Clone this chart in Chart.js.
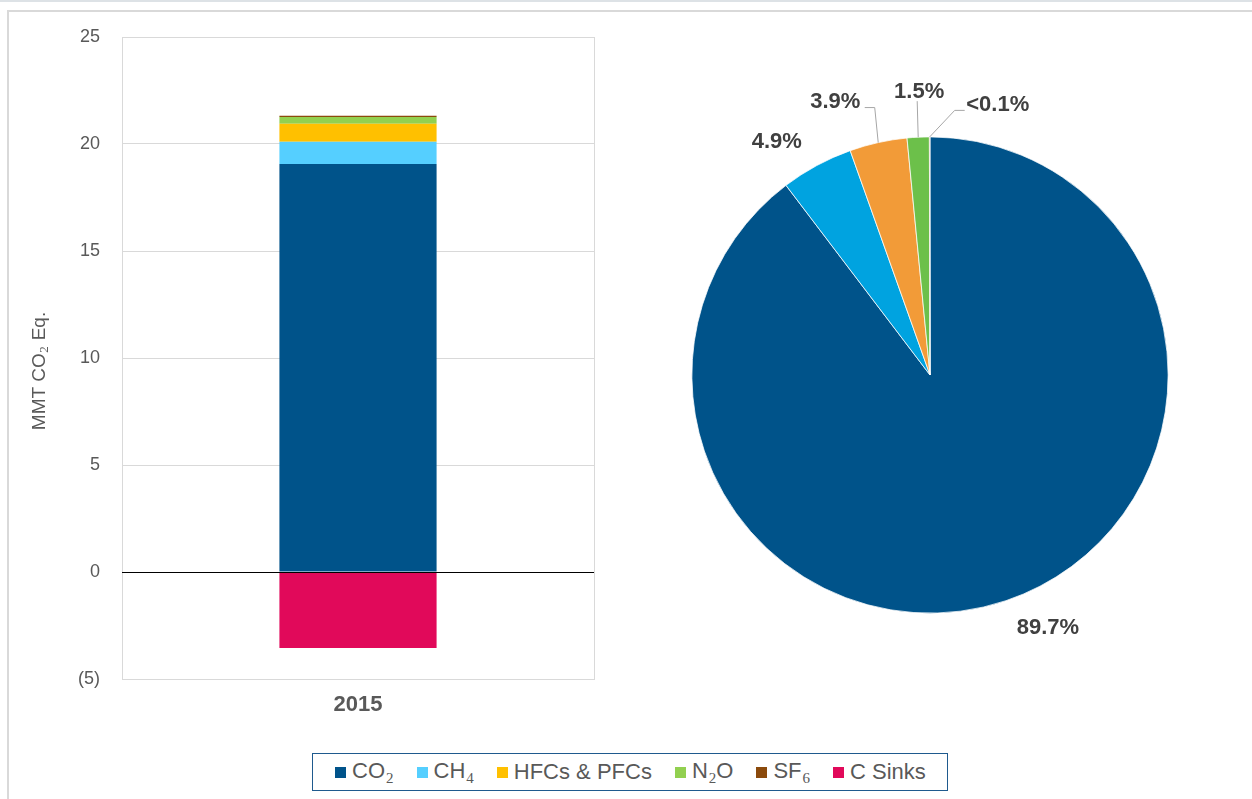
<!DOCTYPE html>
<html><head><meta charset="utf-8">
<script src="https://cdn.jsdelivr.net/npm/chart.js@4/dist/chart.umd.min.js"></script>
<style>
html,body{margin:0;padding:0;background:#fff;}
body{width:1252px;height:799px;overflow:hidden;position:relative;font-family:'Liberation Sans',Arial,sans-serif;}
#topband{position:absolute;left:0;top:0;width:1252px;height:2px;background:#DDE2E6;}
#frameTop{position:absolute;left:7px;top:10px;width:1245px;height:2px;background:#D9D9D9;}
#frameLeft{position:absolute;left:7px;top:10px;width:2px;height:789px;background:#D9D9D9;}
#barWrap{position:absolute;left:0;top:0;width:620px;height:740px;}
#pieWrap{position:absolute;left:630px;top:75px;width:600px;height:600px;}
#legend{position:absolute;left:312px;top:753px;width:636px;height:38px;box-sizing:border-box;border:1px solid #1F5A8E;display:flex;align-items:center;padding-left:22px;}
.item{display:flex;align-items:center;margin-right:23px;font-size:22px;color:#595959;white-space:nowrap;line-height:36px;}
.sw{width:11px;height:11px;margin-right:6px;flex:none;}
.sub{font-family:'Liberation Serif','DejaVu Serif',serif;font-size:15px;position:relative;top:5px;margin-left:1px;}
</style>
</head><body>
<div id="topband"></div><div id="frameTop"></div><div id="frameLeft"></div>
<div id="barWrap"><canvas id="bar" width="620" height="740"></canvas></div>
<div id="pieWrap"><canvas id="pie" width="600" height="600"></canvas></div>
<div id="legend"></div>
<script>
// ---- data ----
const categories = ['2015'];
const gasNames = ['CO₂', 'CH₄', 'HFCs & PFCs', 'N₂O', 'SF₆', 'C Sinks'];
const co2 = [19.07];
const ch4 = [1.04];
const hfcs = [0.84];
const n2o = [0.31];
const sf6 = [0.02];
const cSinks = [-3.55];
const pieShares = [89.7, 4.9, 3.9, 1.5, 0.04]; // CO2, CH4, HFCs&PFCs, N2O, SF6 (%)
const yTicks = [-5, 0, 5, 10, 15, 20, 25];
const yTitle = ['MMT CO', '2', ' Eq.'];

// ---- styles ----
const barColors = ['#00538A', '#55CFFF', '#FFC000', '#92D050', '#8B4A0C', '#E1095A'];
const pieColors = ['#00538A', '#00A3E0', '#F29B38', '#6CC04A', '#8B4A0C'];
const FONT = "'Liberation Sans', Arial, sans-serif";
const pieLabelStyle = [
  {dx: 42, dy: 27},
  {dx: -40, dy: -24},
  {dx: -43, dy: -41, leader: [[-3.5, -35], [-13.5, -35]]},
  {dx: 1, dy: -45, leader: [[-1, -36]]},
  {dx: 68, dy: -32, leader: [[25, -26.5], [35, -26.5]]}
];

function fmtShare(v) { return v < 0.1 ? '<0.1%' : v.toFixed(1) + '%'; }

// ---- legend ----
const legendEl = document.getElementById('legend');
gasNames.forEach((n, i) => {
  const it = document.createElement('div'); it.className = 'item';
  const sw = document.createElement('span'); sw.className = 'sw'; sw.style.background = barColors[i];
  const tx = document.createElement('span');
  tx.innerHTML = n.replace(/[₀-₉]/g, c => '<span class="sub">' + (c.charCodeAt(0) - 0x2080) + '</span>');
  it.appendChild(sw); it.appendChild(tx); legendEl.appendChild(it);
});

// ---- bar chart ----
const zeroLine = {
  id: 'zeroLine',
  afterDatasetsDraw(chart) {
    const {ctx, chartArea, scales} = chart;
    const y = Math.round(scales.y.getPixelForValue(0)) + 0.5;
    ctx.save(); ctx.strokeStyle = '#000'; ctx.lineWidth = 1;
    ctx.beginPath(); ctx.moveTo(chartArea.left, y); ctx.lineTo(chartArea.right, y); ctx.stroke();
    ctx.restore();
  }
};
const axisTitle = {
  id: 'axisTitle',
  afterDraw(chart) {
    const ctx = chart.ctx;
    const cx = 40, cy = 371;
    const big = '19px ' + FONT, small = "13px 'Liberation Serif', serif";
    ctx.save();
    ctx.font = big; const w0 = ctx.measureText(yTitle[0]).width, w2 = ctx.measureText(yTitle[2]).width;
    ctx.font = small; const w1 = ctx.measureText(yTitle[1]).width + 1;
    const total = w0 + w1 + w2;
    ctx.translate(cx, cy); ctx.rotate(-Math.PI / 2);
    ctx.fillStyle = '#595959'; ctx.textBaseline = 'middle'; ctx.textAlign = 'left';
    let x = -total / 2;
    ctx.font = big; ctx.fillText(yTitle[0], x, 0); x += w0;
    ctx.font = small; ctx.fillText(yTitle[1], x + 0.5, 5); x += w1;
    ctx.font = big; ctx.fillText(yTitle[2], x, 0);
    ctx.restore();
  }
};
const barSeries = [co2, ch4, hfcs, n2o, sf6, cSinks];
new Chart(document.getElementById('bar'), {
  type: 'bar',
  data: {
    labels: categories,
    datasets: barSeries.map((d, i) => ({
      label: gasNames[i], data: d, backgroundColor: barColors[i], borderWidth: 0,
      minBarLength: i === 4 ? 1.3 : 0,
      barPercentage: 0.333, categoryPercentage: 1
    }))
  },
  options: {
    responsive: false, animation: false, events: [],
    layout: {padding: {left: 0, top: 37, right: 26, bottom: 0}},
    plugins: {legend: {display: false}, tooltip: {enabled: false}},
    scales: {
      x: {
        stacked: true, offset: true,
        grid: {display: true, color: '#D9D9D9', drawTicks: false, offset: true},
        border: {display: true, color: '#D9D9D9'},
        ticks: {font: {family: FONT, size: 22, weight: 'bold'}, color: '#595959', padding: 13},
        afterFit(s) { s.height = 61; }
      },
      y: {
        stacked: true, min: -5, max: 25,
        afterBuildTicks(s) { s.ticks = yTicks.map(v => ({value: v})); },
        grid: {color: '#D9D9D9', drawTicks: false},
        border: {display: true, color: '#D9D9D9'},
        ticks: {font: {family: FONT, size: 18}, color: '#595959', padding: 22,
          callback: v => v < 0 ? '(' + (-v) + ')' : String(v)},
        afterFit(s) { s.width = 122; }
      }
    }
  },
  plugins: [zeroLine, axisTitle]
});

// ---- pie chart ----
const pieLabels = {
  id: 'pieLabels',
  afterDatasetsDraw(chart) {
    const ctx = chart.ctx; const meta = chart.getDatasetMeta(0);
    ctx.save();
    meta.data.forEach((arc, i) => {
      const p = arc.getProps(['x', 'y', 'startAngle', 'endAngle', 'outerRadius'], true);
      const mid = (p.startAngle + p.endAngle) / 2;
      const ex = p.x + Math.cos(mid) * p.outerRadius, ey = p.y + Math.sin(mid) * p.outerRadius;
      const st = pieLabelStyle[i];
      if (st.leader) {
        ctx.beginPath(); ctx.moveTo(ex, ey);
        st.leader.forEach(q => ctx.lineTo(ex + q[0], ey + q[1]));
        ctx.strokeStyle = '#A6A6A6'; ctx.lineWidth = 1; ctx.stroke();
      }
      ctx.font = 'bold 22px ' + FONT; ctx.fillStyle = '#404040';
      ctx.textAlign = 'center'; ctx.textBaseline = 'middle';
      ctx.fillText(fmtShare(pieShares[i]), ex + st.dx, ey + st.dy);
    });
    ctx.restore();
  }
};
new Chart(document.getElementById('pie'), {
  type: 'pie',
  data: {
    labels: gasNames.slice(0, 5),
    datasets: [{data: pieShares, backgroundColor: pieColors, borderColor: '#ffffff', borderWidth: 0.75}]
  },
  options: {
    responsive: false, animation: false, events: [],
    layout: {padding: 61.5},
    plugins: {legend: {display: false}, tooltip: {enabled: false}}
  },
  plugins: [pieLabels]
});
</script>
</body></html>
